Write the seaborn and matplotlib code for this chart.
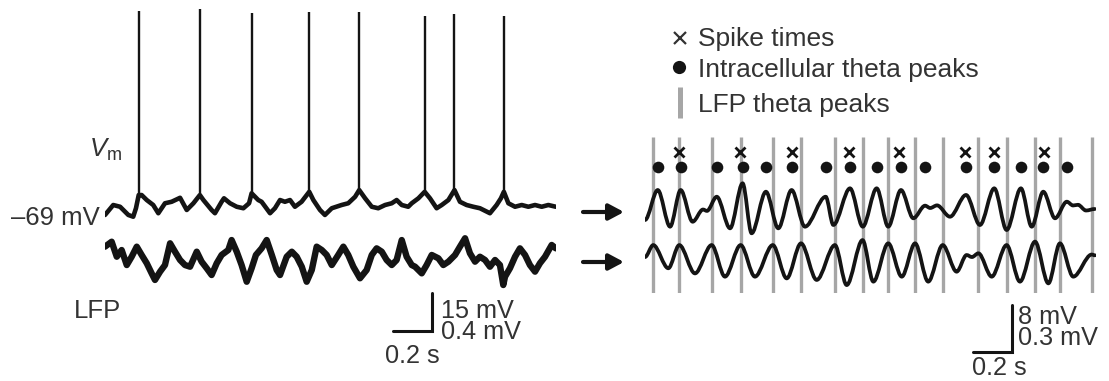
import numpy as np
import matplotlib
matplotlib.use("Agg")
import matplotlib.pyplot as plt
from matplotlib.path import Path
from matplotlib.patches import PathPatch
import seaborn as sns

# ---------------- data (time in s, potentials in mV) ----------------
# raw membrane potential (subthreshold part), spikes listed separately
vm_t = [0.000, 0.042, 0.077, 0.119, 0.144, 0.158, 0.172, 0.187, 0.213, 0.246,
        0.272, 0.306, 0.340, 0.383, 0.417, 0.451, 0.484, 0.502, 0.544, 0.561,
        0.595, 0.607, 0.638, 0.672, 0.706, 0.735, 0.748, 0.782, 0.799, 0.842,
        0.867, 0.893, 0.918, 0.944, 0.969, 1.003, 1.042, 1.063, 1.097, 1.122,
        1.157, 1.207, 1.241, 1.276, 1.297, 1.327, 1.361, 1.394, 1.429, 1.463,
        1.488, 1.514, 1.547, 1.565, 1.599, 1.631, 1.658, 1.692, 1.718, 1.752,
        1.783, 1.811, 1.845, 1.879, 1.913, 1.964, 1.998, 2.020, 2.035, 2.058,
        2.092, 2.126, 2.160, 2.194, 2.228, 2.262, 2.300]
vm_v = [-72.2, -68.2, -68.9, -72.2, -72.9, -69.5, -64.2, -64.2, -66.2, -68.2,
        -71.5, -67.5, -66.9, -65.3, -70.2, -67.5, -64.2, -66.2, -70.2, -71.5,
        -66.9, -65.5, -67.5, -68.9, -69.5, -67.5, -63.5, -66.2, -66.9, -71.5,
        -69.5, -66.2, -66.9, -66.2, -68.9, -66.9, -62.9, -66.2, -70.2, -72.2,
        -69.5, -68.2, -67.5, -64.9, -62.2, -65.5, -68.9, -69.5, -68.2, -67.5,
        -66.2, -68.2, -68.9, -67.5, -65.5, -62.9, -65.5, -69.5, -68.2, -66.2,
        -62.2, -66.9, -68.2, -68.9, -69.5, -71.5, -68.2, -65.5, -62.9, -67.5,
        -68.9, -68.2, -68.9, -68.2, -68.9, -68.2, -68.9]

spike_times = [0.172, 0.484, 0.748, 1.042, 1.297, 1.631, 1.783, 2.035]
spike_peaks = [9.7, 10.4, 9.0, 9.3, 9.2, 7.8, 8.5, 7.7]

# raw local field potential
lfp_t = [0.000, 0.034, 0.060, 0.085, 0.111, 0.136, 0.162, 0.187, 0.213, 0.238,
         0.255, 0.281, 0.306, 0.332, 0.357, 0.383, 0.408, 0.434, 0.468, 0.493,
         0.519, 0.544, 0.570, 0.595, 0.629, 0.646, 0.672, 0.697, 0.723, 0.748,
         0.770, 0.799, 0.825, 0.851, 0.876, 0.893, 0.927, 0.953, 0.978, 1.004,
         1.029, 1.055, 1.080, 1.106, 1.131, 1.157, 1.190, 1.216, 1.241, 1.267,
         1.301, 1.335, 1.361, 1.386, 1.412, 1.437, 1.463, 1.488, 1.514, 1.539,
         1.565, 1.582, 1.616, 1.641, 1.667, 1.701, 1.726, 1.752, 1.786, 1.811,
         1.837, 1.862, 1.888, 1.913, 1.939, 1.964, 1.990, 2.015, 2.032, 2.041,
         2.066, 2.092, 2.117, 2.143, 2.168, 2.194, 2.219, 2.245, 2.279, 2.300]
lfp_v = [0.143, 0.196, 0.035, 0.107, -0.054, 0.035, 0.143, 0.054, -0.035, -0.143,
         -0.214, -0.125, -0.054, 0.179, 0.089, 0.000, -0.054, -0.072, 0.089, -0.018,
         -0.089, -0.161, -0.035, 0.054, 0.107, 0.214, 0.089, -0.054, -0.233, -0.089,
         0.054, 0.125, 0.214, 0.054, -0.107, -0.161, 0.035, 0.089, 0.035, -0.072,
         -0.233, -0.107, 0.143, 0.107, 0.054, -0.054, 0.054, 0.143, 0.054, -0.072,
         -0.196, -0.107, 0.054, 0.125, 0.089, 0.000, -0.054, 0.000, 0.214, 0.035,
         -0.054, -0.072, -0.143, -0.054, 0.054, 0.018, -0.054, -0.018, 0.054, 0.143,
         0.233, 0.072, -0.018, 0.035, 0.000, -0.072, 0.000, -0.054, -0.268, -0.179,
         -0.089, 0.035, 0.125, 0.054, -0.054, -0.125, -0.035, 0.035, 0.161, 0.125]

# theta-band filtered signals: successive peaks and troughs
theta_vm_t = [0.000, 0.065, 0.128, 0.182, 0.243, 0.296, 0.316, 0.366, 0.434, 0.498,
              0.544, 0.617, 0.680, 0.748, 0.816, 0.922, 0.961, 1.046, 1.111, 1.182,
              1.241, 1.306, 1.369, 1.429, 1.455, 1.490, 1.556, 1.638, 1.709, 1.782,
              1.845, 1.918, 1.973, 2.032, 2.092, 2.152, 2.184, 2.209, 2.250, 2.295]
theta_vm_v = [-2.05, 3.08, -3.20, 3.08, -2.35, -0.26, -0.50, 1.93, -3.48, 4.23,
              -4.33, 2.79, -3.48, 3.08, -3.20, 1.93, -2.91, 3.37, -3.20, 3.37,
              -3.20, 3.08, -1.76, 0.40, 0.00, 0.45, -1.49, 2.23, -2.91, 3.37,
              -3.77, 3.37, -3.20, 2.79, -1.76, 1.08, 0.43, 0.55, -0.43, -0.17]

theta_lfp_t = [0.000, 0.042, 0.119, 0.175, 0.255, 0.340, 0.408, 0.488, 0.561, 0.652,
               0.723, 0.796, 0.876, 0.969, 1.029, 1.110, 1.165, 1.241, 1.310, 1.378,
               1.445, 1.519, 1.590, 1.641, 1.668, 1.701, 1.769, 1.845, 1.913, 1.990,
               2.058, 2.117, 2.185, 2.279, 2.296]
theta_lfp_v = [0.019, 0.096, -0.053, 0.096, -0.086, 0.096, -0.107, 0.096, -0.107, 0.096,
               -0.118, 0.107, -0.128, 0.096, -0.161, 0.128, -0.139, 0.107, -0.107, 0.107,
               -0.139, 0.096, -0.075, 0.032, 0.019, 0.043, -0.107, 0.096, -0.139, 0.118,
               -0.150, 0.107, -0.107, 0.035, 0.030]

lfp_peak_times = [0.042, 0.175, 0.340, 0.488, 0.652, 0.796, 0.969, 1.110, 1.241, 1.378,
                  1.519, 1.701, 1.845, 1.990, 2.117, 2.279]
vm_peak_times = [0.065, 0.182, 0.366, 0.498, 0.617, 0.748, 0.922, 1.046, 1.182, 1.306,
                 1.429, 1.638, 1.782, 1.918, 2.032, 2.152]

resting_label = "\u201369 mV"
legend_labels = ["Spike times", "Intracellular theta peaks", "LFP theta peaks"]

# ---------------- style ----------------
sns.set_theme(style="white")
plt.rcParams["font.family"] = ["Liberation Sans", "DejaVu Sans"]
plt.rcParams["mathtext.fontset"] = "custom"
plt.rcParams["mathtext.rm"] = "Liberation Sans"
plt.rcParams["mathtext.it"] = "Liberation Sans:italic"

INK = "#141414"
TXT = "#333333"
GREY = "#a6a6a6"
W, H = 1109, 381
T_END = 2.3
PX_PER_S = 196.0

fig = plt.figure(figsize=(W / 100, H / 100), dpi=100)
fig.patch.set_facecolor("white")


def px_axes(x0, x1, y_top, y_bot):
    ax = fig.add_axes([x0 / W, 1 - y_bot / H, (x1 - x0) / W, (y_bot - y_top) / H])
    ax.set_axis_off()
    ax.patch.set_alpha(0)
    return ax


def ftext(x, y, s, size=18.2, ha="left", va="baseline", ls=1.0):
    fig.text(x / W, 1 - y / H, s, fontsize=size, color=TXT, ha=ha, va=va,
             linespacing=ls)


def theta_path(t, v):
    # smooth curve through successive extrema (flat tangent at each one)
    verts = [(t[0], v[0])]
    codes = [Path.MOVETO]
    for i in range(len(t) - 1):
        d = t[i + 1] - t[i]
        verts += [(t[i] + d / 3, v[i]), (t[i + 1] - d / 3, v[i + 1]), (t[i + 1], v[i + 1])]
        codes += [Path.CURVE4] * 3
    return Path(verts, codes)


LX0 = 105
RX0 = 645
LX1 = LX0 + T_END * PX_PER_S
RX1 = RX0 + T_END * PX_PER_S

# ---- left: raw Vm ----
VM_PX = 2.49          # px per mV
VM_REF_Y = 207        # pixel row of -69 mV
ax_vm = px_axes(LX0, LX1, 0, 240)
ax_vm.set_xlim(0, T_END)
ax_vm.set_ylim(-69 - (240 - VM_REF_Y) / VM_PX, -69 + VM_REF_Y / VM_PX)
sns.lineplot(x=vm_t, y=vm_v, ax=ax_vm, color=INK, lw=3.3, estimator=None,
             errorbar=None, sort=False)
foot = [vm_v[vm_t.index(s)] for s in spike_times]
ax_vm.vlines(spike_times, foot, spike_peaks, color=INK, lw=1.7)
ax_vm.set_axis_off()

# scale bar 0.2 s / 15 mV
sb_t, sb_v = 1.667, -118.7
ax_vm.plot([sb_t - 0.2, sb_t, sb_t], [sb_v, sb_v, sb_v + 15], color=INK, lw=2.2,
           clip_on=False, solid_joinstyle="miter")

# ---- left: raw LFP ----
LFP_PX = 93.3
ax_lfp = px_axes(LX0, LX1, 225, 300)
ax_lfp.set_xlim(0, T_END)
ax_lfp.set_ylim(-(300 - 260) / LFP_PX, (260 - 225) / LFP_PX)
sns.lineplot(x=lfp_t, y=lfp_v, ax=ax_lfp, color=INK, lw=4.6, estimator=None,
             errorbar=None, sort=False)
ax_lfp.set_axis_off()

# ---- right: event markers ----
ax_ev = px_axes(RX0, RX1, 136.7, 293.3)
ax_ev.set_xlim(0, T_END)
ax_ev.set_ylim(0, 1)
ax_ev.vlines(lfp_peak_times, 0, 1, color=GREY, lw=2.4)
sns.scatterplot(x=vm_peak_times, y=[0.808] * len(vm_peak_times), ax=ax_ev,
                color=INK, s=70, linewidth=0, zorder=3)
ax_ev.plot(spike_times, [0.904] * len(spike_times), ls="none", marker="x",
           ms=7, mew=2.0, color=INK, zorder=3)
ax_ev.set_axis_off()

# ---- right: theta Vm ----
TVM_PX = 5.84
ax_tvm = px_axes(RX0, RX1, 150, 250)
ax_tvm.set_xlim(0, T_END)
ax_tvm.set_ylim(-(250 - 208) / TVM_PX, (208 - 150) / TVM_PX)
ax_tvm.add_patch(PathPatch(theta_path(theta_vm_t, theta_vm_v), fc="none",
                           ec=INK, lw=2.7, capstyle="round", joinstyle="round"))
sb_t2, sb_v2 = 1.871, -24.6
ax_tvm.plot([sb_t2 - 0.2, sb_t2, sb_t2], [sb_v2, sb_v2, sb_v2 + 8], color=INK, lw=2.2,
            clip_on=False, solid_joinstyle="miter")
ax_tvm.set_axis_off()

# ---- right: theta LFP ----
TLFP_PX = 155.7
ax_tlfp = px_axes(RX0, RX1, 225, 300)
ax_tlfp.set_xlim(0, T_END)
ax_tlfp.set_ylim(-(300 - 260) / TLFP_PX, (260 - 225) / TLFP_PX)
ax_tlfp.add_patch(PathPatch(theta_path(theta_lfp_t, theta_lfp_v), fc="none",
                            ec=INK, lw=2.7, capstyle="round", joinstyle="round"))
ax_tlfp.set_axis_off()

# ---- overlay for arrows and legend glyphs (pixel coordinates) ----
ov = px_axes(0, W, 0, H)
ov.set_xlim(0, W)
ov.set_ylim(H, 0)
for yy in (212, 262):
    ov.annotate("", xy=(624, yy), xytext=(583, yy),
                arrowprops=dict(arrowstyle="-|>,head_length=0.45,head_width=0.24",
                                lw=3, color=INK, shrinkA=0, shrinkB=0,
                                mutation_scale=20))
ov.plot([680], [38], ls="none", marker="x", ms=8, mew=1.6, color=TXT)
ov.plot([679], [67], ls="none", marker="o", ms=9.5, mew=0, color=INK)
ov.plot([679.5, 679.5], [87, 118], color=GREY, lw=3.6, solid_capstyle="butt")

# ---- text ----
ftext(698, 46, legend_labels[0], size=19)
ftext(698, 77, legend_labels[1], size=19)
ftext(698, 112, legend_labels[2], size=19)
ftext(100, 225, resting_label, size=18.5, ha="right")
ftext(89, 157, r"$V_{\mathrm{m}}$", size=18.5)
ftext(74, 318, "LFP", size=18.5)
# scale-bar labels (two stacked units share one vertical bar)
ftext(441, 339, "15 mV\n0.4 mV", ls=0.85)
ftext(385, 363, "0.2 s")
ftext(1018, 345, "8 mV\n0.3 mV", ls=0.85)
ftext(972, 375, "0.2 s")

fig.savefig("out.png", dpi=100, facecolor="white")
